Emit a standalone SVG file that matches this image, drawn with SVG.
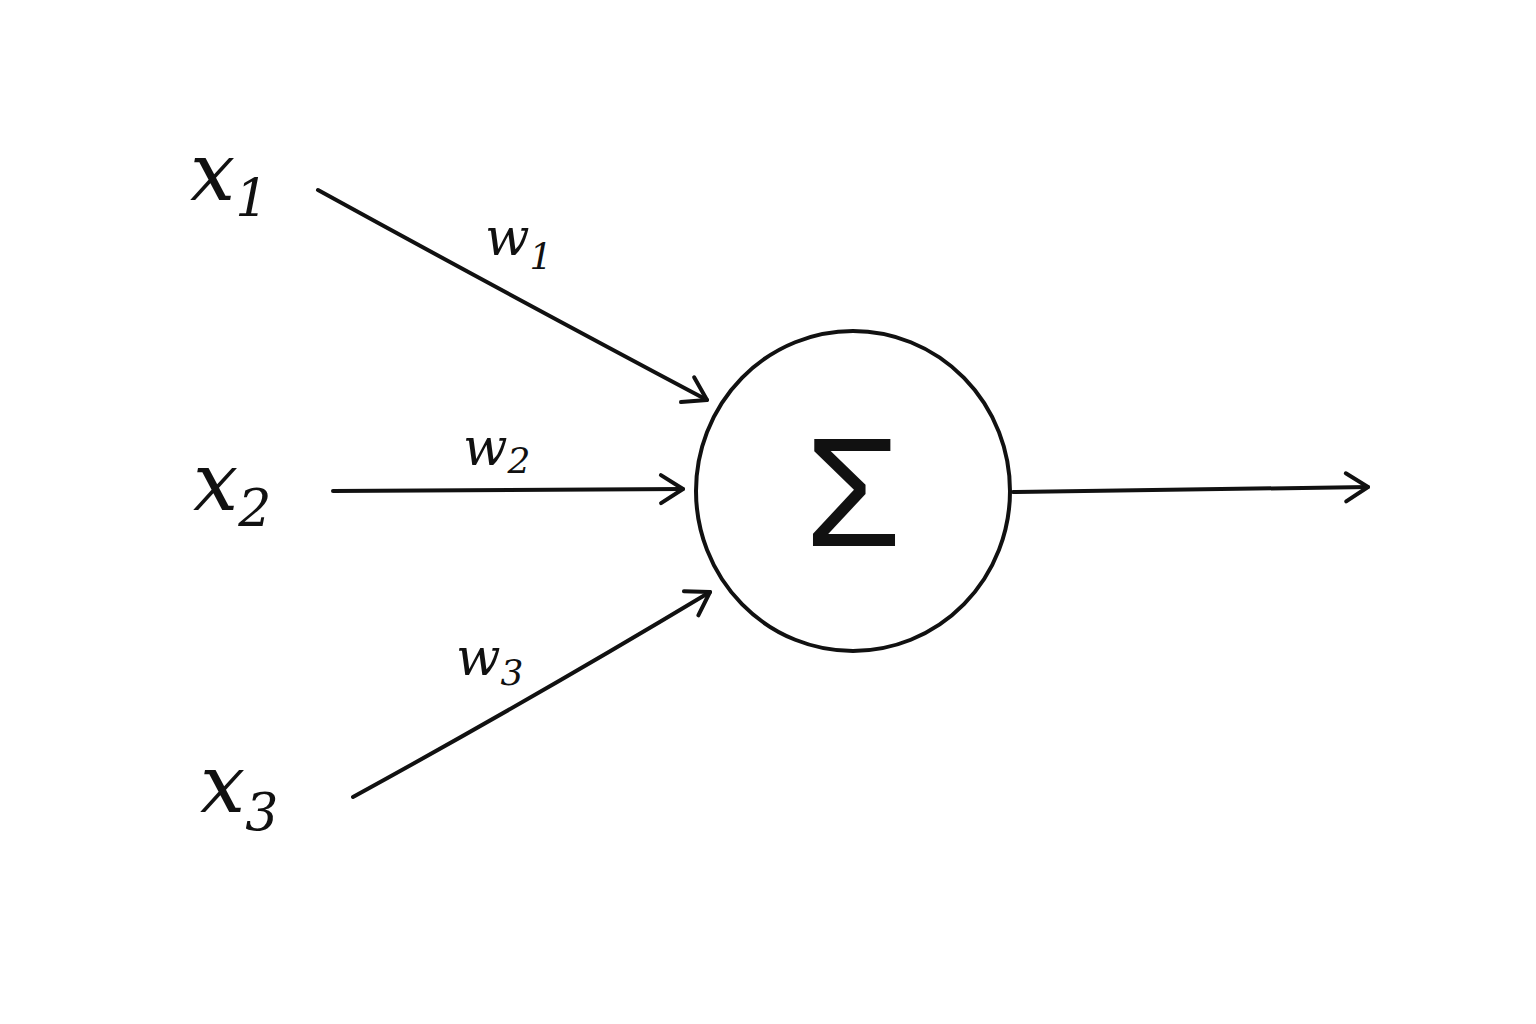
<svg xmlns="http://www.w3.org/2000/svg" width="1536" height="1024" viewBox="0 0 1536 1024">
<style>
.l{stroke:#111;stroke-width:4;fill:none;stroke-linecap:round;stroke-linejoin:round}
.t{font-family:"DejaVu Serif","Liberation Serif",serif;font-style:italic;fill:#111}
</style>
<defs>
<marker id="a" markerWidth="40" markerHeight="40" refX="30" refY="20" orient="auto" markerUnits="userSpaceOnUse">
<polyline points="8,6 30,20 8,34" fill="none" stroke="#111" stroke-width="4" stroke-linecap="round" stroke-linejoin="round"/>
</marker>
</defs>
<rect width="1536" height="1024" fill="#fff"/>
<g id="connectors">
<path class="l" d="M318,190 Q500,290 707,400" marker-end="url(#a)"/>
<path class="l" d="M333,491 L683,489" marker-end="url(#a)"/>
<path class="l" d="M353,797 Q530,700 710,592" marker-end="url(#a)"/>
<path class="l" d="M1013,492 L1368,487" marker-end="url(#a)"/>
</g>
<g id="x1"><text class="t" x="190" y="200" font-size="80">x<tspan font-size="52" dy="16">1</tspan></text></g>
<g id="x2"><text class="t" x="193" y="510" font-size="80">x<tspan font-size="52" dy="16">2</tspan></text></g>
<g id="x3"><text class="t" x="200" y="812" font-size="80">x<tspan font-size="52" dy="18">3</tspan></text></g>
<g id="w1"><text class="t" x="485" y="255" font-size="52">w<tspan font-size="36" dy="14">1</tspan></text></g>
<g id="w2"><text class="t" x="463" y="465" font-size="52">w<tspan font-size="36" dy="8">2</tspan></text></g>
<g id="w3"><text class="t" x="456" y="675" font-size="52">w<tspan font-size="36" dy="10">3</tspan></text></g>
<g id="neuron">
<ellipse class="l" cx="853" cy="491" rx="157" ry="160"/>
<text x="853" y="546" font-size="156" text-anchor="middle" font-family="Liberation Sans,sans-serif" font-weight="normal" fill="#111">Σ</text>
</g>
</svg>
